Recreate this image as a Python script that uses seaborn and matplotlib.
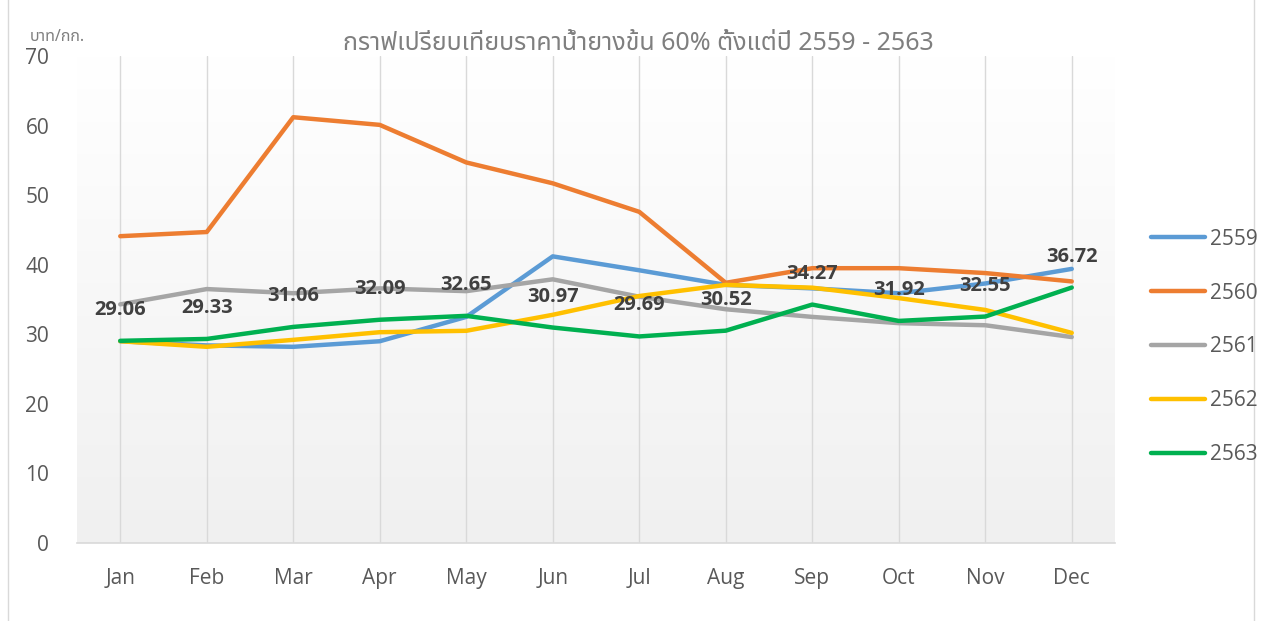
import numpy as np
import pandas as pd
import matplotlib
matplotlib.use("Agg")
import matplotlib.pyplot as plt
import seaborn as sns
from matplotlib.patches import Rectangle
from matplotlib.lines import Line2D

months = ["Jan", "Feb", "Mar", "Apr", "May", "Jun", "Jul", "Aug", "Sep", "Oct", "Nov", "Dec"]
years = ["2559", "2560", "2561", "2562", "2563"]
v2559 = [29.0, 28.4, 28.2, 29.0, 32.5, 41.2, 39.2, 37.1, 36.6, 35.9, 37.3, 39.4]
v2560 = [44.1, 44.7, 61.2, 60.1, 54.7, 51.7, 47.6, 37.4, 39.5, 39.5, 38.8, 37.6]
v2561 = [34.3, 36.5, 35.9, 36.6, 36.2, 37.9, 35.4, 33.6, 32.5, 31.6, 31.3, 29.6]
v2562 = [29.0, 28.2, 29.2, 30.3, 30.5, 32.8, 35.5, 37.1, 36.7, 35.2, 33.5, 30.2]
v2563 = [29.06, 29.33, 31.06, 32.09, 32.65, 30.97, 29.69, 30.52, 34.27, 31.92, 32.55, 36.72]
colors = ["#5B9BD5", "#ED7D31", "#A5A5A5", "#FFC000", "#00B050"]
yticks = [0, 10, 20, 30, 40, 50, 60, 70]
title = "กราฟเปรียบเทียบราคาน้ำยางข้น 60% ตั้งแต่ปี 2559 - 2563"
unit = "บาท/กก."

series = [v2559, v2560, v2561, v2562, v2563]
rows = []
for y, vals in zip(years, series):
    for i, v in enumerate(vals):
        rows.append({"idx": i, "month": months[i], "year": y, "value": v})
df = pd.DataFrame(rows)

sns.set_theme(style="white")
plt.rcParams["font.family"] = ["Open Sans", "Noto Sans Thai", "DejaVu Sans"]
thai = ["Noto Sans Thai", "Open Sans", "DejaVu Sans"]

fig = plt.figure(figsize=(12.68, 6.21), dpi=100)
ax = fig.add_axes([77 / 1268, 1 - 543 / 621, (1115 - 77) / 1268, (543 - 56) / 621])

# gradient background (white top -> light gray bottom)
grad = np.linspace(0, 1, 256).reshape(-1, 1)
cmap = matplotlib.colors.LinearSegmentedColormap.from_list("g", ["#f0f0f0", "#ffffff"])
ax.imshow(grad, aspect="auto", cmap=cmap, extent=[-0.5, 11.5, 0, 70], origin="lower", zorder=0)

for i in range(len(months)):
    ax.axvline(i, color="#d9d9d9", lw=1, zorder=1)

sns.lineplot(data=df, x="idx", y="value", hue="year", palette=colors, lw=3.2,
             ax=ax, legend=False, zorder=3, sort=False)
for l in ax.lines:
    l.set_solid_capstyle("round")

for i, v in enumerate(v2563):
    ax.annotate(f"{v:.2f}", (i, v), xytext=(0, 31), textcoords="offset pixels",
                ha="center", va="center", fontsize=14.5, fontweight="bold",
                color="#404040", zorder=5, family="Open Sans")

ax.set_xlim(-0.5, 11.5)
ax.set_ylim(0, 70)
ax.set_xticks(range(len(months)))
ax.set_xticklabels(months)
ax.set_yticks(yticks)
ax.tick_params(axis="both", length=0, labelsize=15, labelcolor="#595959")
ax.tick_params(axis="x", pad=18)
ax.tick_params(axis="y", pad=20)
ax.set_xlabel("")
ax.set_ylabel("")
for s in ["top", "right", "left"]:
    ax.spines[s].set_visible(False)
ax.spines["bottom"].set_color("#d9d9d9")
ax.spines["bottom"].set_linewidth(1.2)

handles = [Line2D([0], [0], color=c, lw=3.2, solid_capstyle="round") for c in colors]
fig.legend(handles, years, loc="center left", bbox_to_anchor=(1132 / 1268, 1 - 347 / 621),
           frameon=False, fontsize=15, labelcolor="#595959", handlelength=2.6,
           labelspacing=1.58, handletextpad=0.25)

fig.text(638 / 1268, 1 - 43 / 621, title, ha="center", va="center", fontsize=18,
         fontweight="bold", color="#7f7f7f", family=thai)
fig.text(30 / 1268, 1 - 37 / 621, unit, ha="left", va="center", fontsize=11.5,
         color="#7f7f7f", family=thai)

fig.add_artist(Rectangle((8 / 1268, -0.01), (1254 - 8) / 1268, 1.2, transform=fig.transFigure,
                         fill=False, edgecolor="#d9d9d9", lw=1))

fig.savefig("out.png", dpi=100)
